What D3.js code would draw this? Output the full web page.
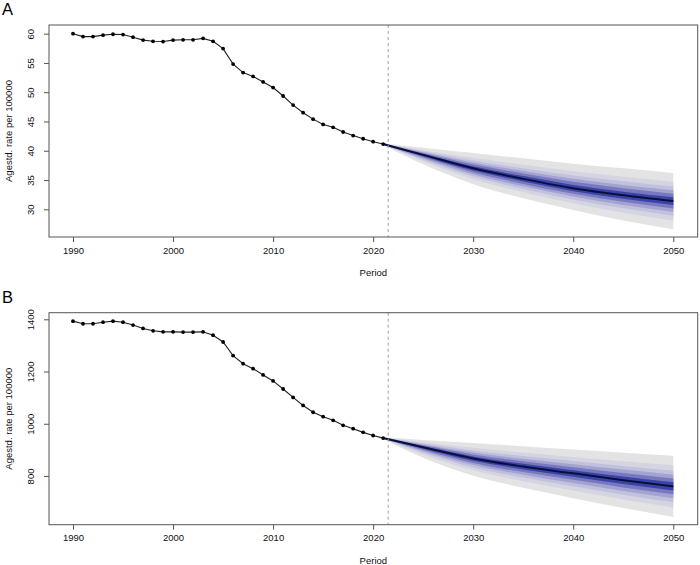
<!DOCTYPE html>
<html>
<head>
<meta charset="utf-8">
<script src="https://cdn.jsdelivr.net/npm/d3@7"></script>
<style>
  body { margin: 0; background: #fff; }
  svg { display: block; font-family: "Liberation Sans", Arial, sans-serif; }
</style>
</head>
<body>
<div id="chart"></div>
<script>
// observerade år
const years = [1990, 1991, 1992, 1993, 1994, 1995, 1996, 1997, 1998, 1999,
  2000, 2001, 2002, 2003, 2004, 2005, 2006, 2007, 2008, 2009,
  2010, 2011, 2012, 2013, 2014, 2015, 2016, 2017, 2018, 2019, 2020, 2021];

const obsA = [60.0, 59.5, 59.5, 59.75, 59.9, 59.85, 59.4, 58.9, 58.7, 58.65,
  58.9, 58.95, 58.95, 59.2, 58.7, 57.45, 54.8, 53.35, 52.7, 51.75,
  50.8, 49.35, 47.8, 46.5, 45.4, 44.5, 44.0, 43.2, 42.6, 42.05, 41.55, 41.15];

const obsB = [1393, 1383, 1383, 1389, 1393, 1389, 1378, 1365, 1356, 1352,
  1352, 1351, 1351, 1352, 1339, 1313, 1261, 1230, 1211, 1187,
  1164, 1133, 1101, 1070, 1044, 1027, 1013, 994, 981, 967, 955, 945];

// prognosår (knutpunkter för solfjädern)
const fcYears = [2021, 2025, 2030, 2035, 2040, 2045, 2050];

// kvantiler per prognosår, lägst -> högst, mittersta = median
const fanA = [
  [41.0, 41.05, 41.07, 41.09, 41.11, 41.13, 41.15, 41.17, 41.19, 41.21, 41.23, 41.25, 41.3],
  [37.7, 38.2, 38.47, 38.68, 38.88, 39.08, 39.3, 39.46, 39.61, 39.76, 39.92, 40.1, 40.5],
  [34.3, 35.14, 35.6, 35.96, 36.3, 36.64, 37.0, 37.35, 37.68, 38.0, 38.35, 38.79, 39.6],
  [31.9, 32.92, 33.48, 33.93, 34.34, 34.75, 35.2, 35.67, 36.11, 36.55, 37.02, 37.62, 38.7],
  [29.9, 31.05, 31.68, 32.18, 32.64, 33.1, 33.6, 34.17, 34.69, 35.22, 35.78, 36.5, 37.8],
  [28.1, 29.43, 30.16, 30.74, 31.28, 31.82, 32.4, 33.02, 33.6, 34.17, 34.79, 35.57, 37.0],
  [26.6, 28.09, 28.9, 29.55, 30.15, 30.75, 31.4, 32.05, 32.65, 33.25, 33.9, 34.71, 36.2]
];

const fanB = [
  [942, 943, 943.5, 944, 944.3, 944.6, 945, 945.4, 945.7, 946, 946.5, 947, 948],
  [870, 882.4, 889.2, 894.6, 899.6, 904.6, 910, 913.8, 917.3, 920.8, 924.6, 929.3, 938],
  [801, 821.5, 832.7, 841.6, 849.8, 858.1, 867, 875, 882.3, 889.7, 897.7, 907.7, 926],
  [755, 780.1, 793.9, 804.8, 814.9, 825.1, 836, 846.5, 856.3, 866, 876.6, 889.8, 914],
  [715, 744.4, 760.6, 773.4, 785.3, 797.2, 810, 822.3, 833.7, 845, 857.3, 872.8, 901],
  [677, 710.2, 728.4, 742.8, 756.2, 769.6, 784, 798.2, 811.3, 824.4, 838.6, 856.5, 889],
  [643, 679.3, 699.2, 715, 729.6, 744.2, 760, 775.8, 790.4, 805, 819.6, 840.7, 877]
];

const xTicks = [1990, 2000, 2010, 2020, 2030, 2040, 2050];
const yTicksA = [30, 35, 40, 45, 50, 55, 60];
const yTicksB = [800, 1000, 1200, 1400];

// färger från yttersta bandet och inåt
const bandColors = ['#e3e3e3', '#d4d4e2', '#c1c1dd', '#a3a3d2', '#7878c0', '#3a44a6'];

const width = 700, height = 565;

const svg = d3.select('#chart').append('svg')
  .attr('width', width)
  .attr('height', height);

function panel(opts) {
  const { label, top, bottom, yDomain, yTicks, obs, fan } = opts;
  const left = 49, right = 697.7;

  const x = d3.scaleLinear().domain([1987.6, 2052.44]).range([left, right]);
  const y = d3.scaleLinear().domain(yDomain).range([bottom, top]);

  const g = svg.append('g');

  // solfjädern, yttersta bandet först
  const nBands = bandColors.length;
  for (let b = 0; b < nBands; b++) {
    const area = d3.area()
      .x((d, i) => x(fcYears[i]))
      .y0(d => y(d[b]))
      .y1(d => y(d[d.length - 1 - b]))
      .curve(d3.curveMonotoneX);
    g.append('path')
      .datum(fan)
      .attr('d', area)
      .attr('fill', bandColors[b]);
  }

  // medianlinje
  const mid = (fan[0].length - 1) / 2;
  g.append('path')
    .datum(fan)
    .attr('d', d3.line()
      .x((d, i) => x(fcYears[i]))
      .y(d => y(d[mid]))
      .curve(d3.curveMonotoneX))
    .attr('fill', 'none')
    .attr('stroke', '#0b0f3c')
    .attr('stroke-width', 2);

  // streckad linje vid prognosstart
  g.append('line')
    .attr('x1', x(2021.5)).attr('x2', x(2021.5))
    .attr('y1', top).attr('y2', bottom)
    .attr('stroke', '#a0a0a0')
    .attr('stroke-dasharray', '3,3');

  // observerade värden
  g.append('path')
    .datum(obs)
    .attr('d', d3.line().x((d, i) => x(years[i])).y(d => y(d)))
    .attr('fill', 'none')
    .attr('stroke', '#222')
    .attr('stroke-width', 1.1);

  g.selectAll('circle.pt')
    .data(obs)
    .enter()
      .append('circle')
      .attr('class', 'pt')
      .attr('cx', (d, i) => x(years[i]))
      .attr('cy', d => y(d))
      .attr('r', 1.9)
      .attr('fill', '#000');

  // ram
  g.append('rect')
    .attr('x', left).attr('y', top)
    .attr('width', right - left).attr('height', bottom - top)
    .attr('fill', 'none')
    .attr('stroke', '#555')
    .attr('stroke-width', 1);

  // x-axel
  const xAxis = g.append('g')
    .attr('transform', `translate(0,${bottom})`)
    .call(d3.axisBottom(x).tickValues(xTicks).tickFormat(d3.format('d')).tickSize(5).tickPadding(5));
  xAxis.select('.domain').remove();
  xAxis.selectAll('line').attr('stroke', '#555');
  xAxis.selectAll('text').attr('font-size', 9.5).attr('fill', '#111')
    .attr('font-family', '"Liberation Sans", Arial, sans-serif');

  // y-axel, roterade etiketter som i R
  const yAxis = g.append('g')
    .attr('transform', `translate(${left},0)`)
    .call(d3.axisLeft(y).tickValues(yTicks).tickSize(5).tickFormat(d3.format('d')));
  yAxis.select('.domain').remove();
  yAxis.selectAll('line').attr('stroke', '#555');
  yAxis.selectAll('text')
    .attr('font-size', 9.5).attr('fill', '#111')
    .attr('font-family', '"Liberation Sans", Arial, sans-serif')
    .attr('x', null).attr('dy', null)
    .attr('text-anchor', 'middle')
    .attr('transform', 'translate(-19,0) rotate(-90)')
    .attr('dominant-baseline', 'central');

  // axeltitlar
  g.append('text')
    .attr('x', (left + right) / 2)
    .attr('y', bottom + 39)
    .attr('text-anchor', 'middle')
    .attr('font-size', 9.5)
    .attr('fill', '#111')
    .text('Period');

  g.append('text')
    .attr('transform', `translate(12,${(top + bottom) / 2}) rotate(-90)`)
    .attr('text-anchor', 'middle')
    .attr('font-size', 9.5)
    .attr('fill', '#111')
    .text('Agestd. rate per 100000');

  // panelbokstav
  g.append('text')
    .attr('x', 2)
    .attr('y', top - 10)
    .attr('font-size', 16.5)
    .attr('fill', '#000')
    .text(label);
}

panel({ label: 'A', top: 25, bottom: 237, yDomain: [25.27, 61.48], yTicks: yTicksA, obs: obsA, fan: fanA });
panel({ label: 'B', top: 312.7, bottom: 524.7, yDomain: [613.4, 1425.3], yTicks: yTicksB, obs: obsB, fan: fanB });
</script>
</body>
</html>
